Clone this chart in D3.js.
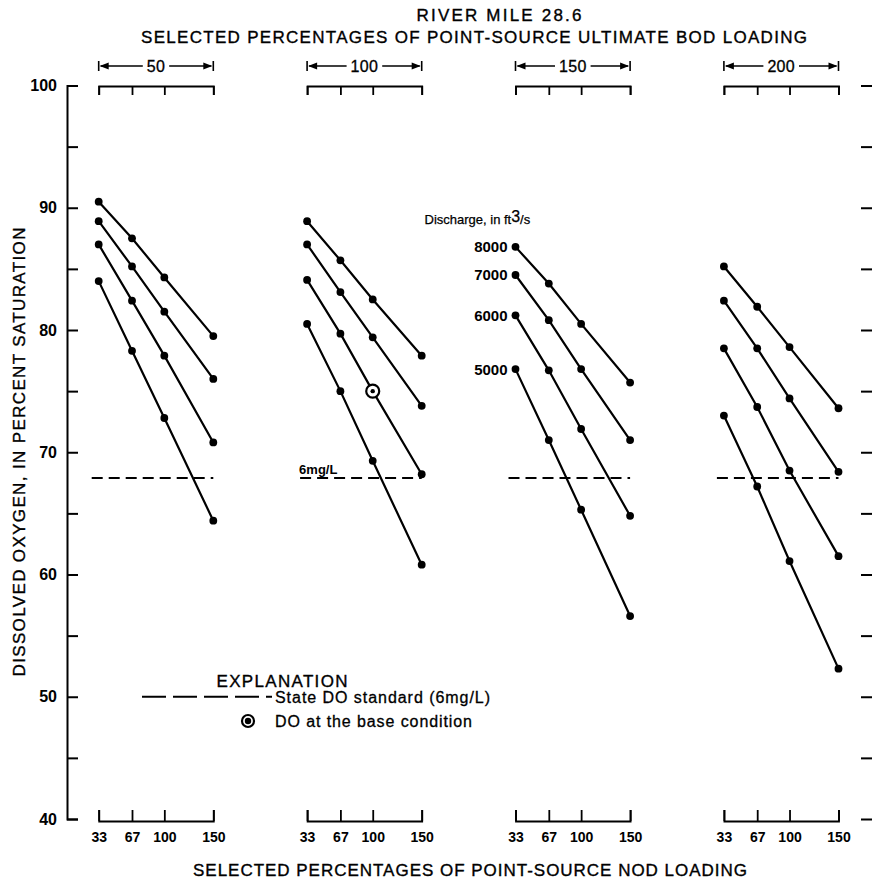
<!DOCTYPE html>
<html>
<head>
<meta charset="utf-8">
<script src="https://cdn.jsdelivr.net/npm/d3@7"></script>
<style>
  html, body { margin: 0; padding: 0; background: #fff; }
  svg { display: block; font-family: "Liberation Sans", Arial, Helvetica, sans-serif; }
</style>
</head>
<body>
<script>
// Point-source NOD loading (percent) along each panel's x axis
const nodPct = [33, 67, 100, 150];
// Point-source ultimate BOD loading (percent), one panel each
const bodLevels = [50, 100, 150, 200];
// Discharge of each curve, ft3/s
const discharges = [8000, 7000, 6000, 5000];

// Dissolved oxygen, percent saturation: rows follow discharges, columns follow nodPct
const doBod50 = [
  [90.5, 87.5, 84.3, 79.5],
  [88.9, 85.2, 81.5, 76.0],
  [87.0, 82.4, 77.9, 70.8],
  [84.0, 78.3, 72.8, 64.4]
];
const doBod100 = [
  [88.9, 85.7, 82.5, 77.9],
  [87.0, 83.1, 79.4, 73.8],
  [84.1, 79.7, 75.0, 68.2],
  [80.5, 75.0, 69.3, 60.8]
];
const doBod150 = [
  [86.8, 83.8, 80.5, 75.7],
  [84.5, 80.8, 76.8, 71.0],
  [81.2, 76.7, 71.9, 64.8],
  [76.8, 71.0, 65.3, 56.6]
];
const doBod200 = [
  [85.2, 81.9, 78.6, 73.6],
  [82.4, 78.5, 74.4, 68.4],
  [78.5, 73.7, 68.5, 61.5],
  [73.0, 67.2, 61.1, 52.3]
];
const panelData = [doBod50, doBod100, doBod150, doBod200];

// State DO standard (6 mg/L) expressed as percent saturation
const doStandard = 67.9;
// Base condition: BOD 100 %, NOD 100 %, discharge 6000 ft3/s
const baseBod = 100, baseNod = 100, baseDischarge = 6000;

const yTicks = d3.range(40, 101, 5);

const W = 872, H = 879;
const FONT = '"Liberation Sans", Arial, Helvetica, sans-serif';
const svg = d3.select("body").append("svg").attr("width", W).attr("height", H);

const y = d3.scaleLinear().domain([40, 100]).range([819, 85.5]);
const panelX = d3.scaleBand().domain(bodLevels).range([98.7, 98.7 + 4 * 208.4]).padding(0);
const x = d3.scaleLinear().domain([33, 150]).range([0, 114.6]);

// a slightly heavier stroke on regular text, like the lettering on the sheet
function heavy(sel, w) { return sel.attr("stroke", "#000").attr("stroke-width", w || 0.35); }

// ---- titles ----
heavy(svg.append("text").attr("x", 499).attr("y", 21).attr("text-anchor", "middle")
  .attr("font-size", 17).attr("textLength", 165).attr("lengthAdjust", "spacing")
  .text("RIVER MILE 28.6"));
heavy(svg.append("text").attr("x", 474).attr("y", 43).attr("text-anchor", "middle")
  .attr("font-size", 17).attr("textLength", 666).attr("lengthAdjust", "spacing")
  .text("SELECTED PERCENTAGES OF POINT-SOURCE ULTIMATE BOD LOADING"));
heavy(svg.append("text").attr("x", 470).attr("y", 876).attr("text-anchor", "middle")
  .attr("font-size", 17).attr("textLength", 554).attr("lengthAdjust", "spacing")
  .text("SELECTED PERCENTAGES OF POINT-SOURCE NOD LOADING"));
heavy(svg.append("text").attr("transform", "translate(25,452) rotate(-90)")
  .attr("text-anchor", "middle").attr("font-size", 17)
  .attr("textLength", 449).attr("lengthAdjust", "spacing")
  .text("DISSOLVED OXYGEN, IN PERCENT SATURATION"));

// ---- left axis ----
const yAxis = svg.append("g").attr("transform", "translate(67,0)")
  .call(d3.axisLeft(y).tickValues(yTicks).tickSizeInner(-11).tickSizeOuter(-11)
    .tickPadding(10).tickFormat(d => d % 10 === 0 ? d : ""));
yAxis.selectAll("path, line").attr("stroke", "#000").attr("stroke-width", 2);
yAxis.selectAll("text").attr("font-family", FONT).attr("font-size", 16)
  .attr("font-weight", "bold").attr("fill", "#000");

// ---- right-hand ticks ----
const yRight = svg.append("g").attr("transform", "translate(861,0)")
  .call(d3.axisRight(y).tickValues(yTicks).tickSize(11).tickFormat(""));
yRight.select(".domain").remove();
yRight.selectAll("line").attr("stroke", "#000").attr("stroke-width", 2);

// ---- panels ----
const line = d3.line().x((d, j) => x(nodPct[j])).y(d => y(d));

bodLevels.forEach((bod, i) => {
  const g = svg.append("g").attr("transform", `translate(${panelX(bod)},0)`);
  const x0 = x(nodPct[0]), x1 = x(nodPct[nodPct.length - 1]);

  // top bracket
  const top = g.append("g").attr("transform", "translate(0,86)")
    .call(d3.axisBottom(x).tickValues(nodPct).tickSize(9).tickFormat(""));
  top.selectAll("path, line").attr("stroke", "#000").attr("stroke-width", 1.8);

  // bottom bracket with NOD labels
  const bot = g.append("g").attr("transform", "translate(0,821)")
    .call(d3.axisBottom(x).tickValues(nodPct).tickSizeInner(-11).tickSizeOuter(-11)
      .tickPadding(11).tickFormat(d3.format("d")));
  bot.selectAll("path, line").attr("stroke", "#000").attr("stroke-width", 1.8);
  bot.selectAll("text").attr("font-family", FONT).attr("font-size", 14)
    .attr("font-weight", "bold").attr("fill", "#000");

  // BOD header: |<-- 50 -->|
  const hy = 66;
  const hdr = g.append("g");
  [x0, x1].forEach(xx => hdr.append("line").attr("x1", xx).attr("x2", xx)
    .attr("y1", hy - 5).attr("y2", hy + 5).attr("stroke", "#000").attr("stroke-width", 1.6));
  const lbl = heavy(hdr.append("text").attr("x", (x0 + x1) / 2).attr("y", hy + 6)
    .attr("text-anchor", "middle").attr("font-size", 16).attr("letter-spacing", 0.3)
    .text(bod), 0.3);
  const tw = lbl.node().getComputedTextLength();
  const lx = (x0 + x1) / 2 - tw / 2 - 4, rx = (x0 + x1) / 2 + tw / 2 + 4;
  hdr.append("line").attr("x1", x0 + 2).attr("x2", lx).attr("y1", hy).attr("y2", hy)
    .attr("stroke", "#000").attr("stroke-width", 1.5);
  hdr.append("line").attr("x1", rx).attr("x2", x1 - 2).attr("y1", hy).attr("y2", hy)
    .attr("stroke", "#000").attr("stroke-width", 1.5);
  hdr.append("path").attr("d", `M${x0 + 1},${hy} L${x0 + 10},${hy - 3.5} L${x0 + 10},${hy + 3.5} Z`);
  hdr.append("path").attr("d", `M${x1 - 1},${hy} L${x1 - 10},${hy - 3.5} L${x1 - 10},${hy + 3.5} Z`);

  // State DO standard
  g.append("line").attr("x1", x0 - 7).attr("x2", x1).attr("y1", y(doStandard)).attr("y2", y(doStandard))
    .attr("stroke", "#000").attr("stroke-width", 2).attr("stroke-dasharray", "11,6");

  // curves
  const data = panelData[i];
  data.forEach(series => {
    g.append("path").attr("d", line(series)).attr("fill", "none")
      .attr("stroke", "#000").attr("stroke-width", 2.2);
    g.selectAll(null).data(series).enter().append("circle")
      .attr("cx", (d, j) => x(nodPct[j])).attr("cy", d => y(d)).attr("r", 3.9).attr("fill", "#000");
  });

  if (bod === baseBod) {
    const v = data[discharges.indexOf(baseDischarge)][nodPct.indexOf(baseNod)];
    g.append("circle").attr("cx", x(baseNod)).attr("cy", y(v)).attr("r", 6.5)
      .attr("fill", "#fff").attr("stroke", "#000").attr("stroke-width", 2.2);
    g.append("circle").attr("cx", x(baseNod)).attr("cy", y(v)).attr("r", 2.2).attr("fill", "#000");
    g.append("text").attr("x", x0 - 8).attr("y", y(doStandard) - 4)
      .attr("font-size", 13).attr("font-weight", "bold").text("6mg/L");
  }

  if (i === 2) {
    const t = heavy(g.append("text").attr("x", x0 - 91).attr("y", 224).attr("font-size", 13), 0.25);
    t.append("tspan").text("Discharge, in ft");
    t.append("tspan").attr("font-size", 16).attr("dy", -2).text("3");
    t.append("tspan").attr("font-size", 13).attr("dy", 2).text("/s");
    discharges.forEach((q, k) => {
      g.append("text").attr("x", x0 - 8).attr("y", y(data[k][0]) + 5.5)
        .attr("text-anchor", "end").attr("font-size", 15).attr("font-weight", "bold").text(q);
    });
  }
});

// ---- explanation ----
const leg = svg.append("g");
heavy(leg.append("text").attr("x", 282).attr("y", 687).attr("text-anchor", "middle")
  .attr("font-size", 17).attr("textLength", 131).attr("lengthAdjust", "spacing").text("EXPLANATION"));
leg.append("line").attr("x1", 142).attr("x2", 272).attr("y1", y(50)).attr("y2", y(50))
  .attr("stroke", "#000").attr("stroke-width", 2).attr("stroke-dasharray", "24,7");
heavy(leg.append("text").attr("x", 275).attr("y", y(50) + 6).attr("font-size", 16)
  .attr("textLength", 215).attr("lengthAdjust", "spacing").text("State DO standard (6mg/L)"), 0.3);
leg.append("circle").attr("cx", 248).attr("cy", 721).attr("r", 6)
  .attr("fill", "#fff").attr("stroke", "#000").attr("stroke-width", 2.2);
leg.append("circle").attr("cx", 248).attr("cy", 721).attr("r", 3.2).attr("fill", "#000");
heavy(leg.append("text").attr("x", 275).attr("y", 727).attr("font-size", 16)
  .attr("textLength", 197).attr("lengthAdjust", "spacing").text("DO at the base condition"), 0.3);
</script>
</body>
</html>
